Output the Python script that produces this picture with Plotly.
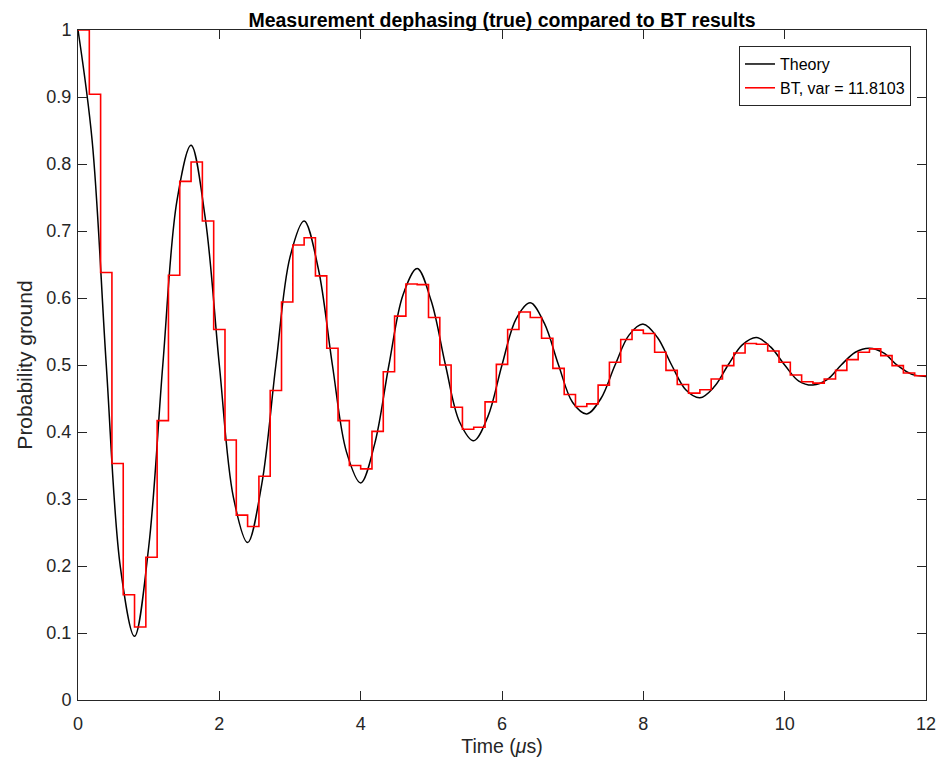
import plotly.graph_objects as go

# ---- data ----
BIN_WIDTH = 0.16  # width of each BT step (µs)
bt_values = [
    1.000, 0.904, 0.638, 0.353, 0.157, 0.109, 0.213, 0.417, 0.634, 0.774,
    0.803, 0.715, 0.553, 0.388, 0.276, 0.259, 0.334, 0.462, 0.594, 0.679,
    0.690, 0.633, 0.525, 0.417, 0.350, 0.345, 0.401, 0.490, 0.573, 0.621,
    0.620, 0.571, 0.500, 0.437, 0.404, 0.407, 0.445, 0.501, 0.553, 0.579,
    0.571, 0.540, 0.495, 0.456, 0.438, 0.442, 0.470, 0.504, 0.538, 0.552,
    0.547, 0.519, 0.492, 0.471, 0.458, 0.463, 0.479, 0.499, 0.518, 0.532,
    0.531, 0.521, 0.504, 0.485, 0.475, 0.473, 0.479, 0.492, 0.508, 0.519,
    0.524, 0.514, 0.499, 0.488, 0.484,
]

THEORY_STEP = 0.2  # sampling of the theory curve (µs)
theory_values = [
    1.000, 0.835, 0.500, 0.198, 0.095, 0.228, 0.500, 0.745, 0.828, 0.720,
    0.500, 0.302, 0.235, 0.322, 0.500, 0.661, 0.715, 0.644, 0.500, 0.370,
    0.324, 0.383, 0.500, 0.605, 0.644, 0.595, 0.500, 0.415, 0.387, 0.423,
    0.500, 0.569, 0.593, 0.562, 0.500, 0.444, 0.427, 0.450, 0.500, 0.545,
    0.561, 0.541, 0.500, 0.463, 0.451, 0.467, 0.500, 0.530, 0.541, 0.527,
    0.500, 0.476, 0.470, 0.478, 0.500, 0.519, 0.525, 0.518, 0.499, 0.486,
    0.483,
]

x_tick_vals = [0, 2, 4, 6, 8, 10, 12]
y_tick_vals = [0, 0.1, 0.2, 0.3, 0.4, 0.5, 0.6, 0.7, 0.8, 0.9, 1]
y_tick_text = ["0", "0.1", "0.2", "0.3", "0.4", "0.5", "0.6", "0.7", "0.8", "0.9", "1"]

title_text = "Measurement dephasing (true) compared to BT results"
theory_name = "Theory"
bt_name = "BT, var = 11.8103"

# ---- derived ----
t_theory = [round(i * THEORY_STEP, 4) for i in range(len(theory_values))]
t_edges = [round(i * BIN_WIDTH, 4) for i in range(len(bt_values) + 1)]
bt_y = bt_values + [bt_values[-1]]

FONT = "Liberation Sans, Arial, Helvetica, sans-serif"
AX = "#262626"
W, H = 945, 762

fig = go.Figure()
fig.add_trace(go.Scatter(
    x=t_theory, y=theory_values, mode="lines", name=theory_name,
    line=dict(color="black", width=1.5, shape="spline", smoothing=1.0),
))
fig.add_trace(go.Scatter(
    x=t_edges, y=bt_y, mode="lines", name=bt_name,
    line=dict(color="#ff0000", width=1.6, shape="hv"),
))

axis_common = dict(
    showgrid=False, zeroline=False, showline=True, linecolor=AX, linewidth=1,
    mirror="ticks", ticks="inside", ticklen=9, tickwidth=1, tickcolor=AX,
    tickfont=dict(family=FONT, size=18, color=AX), automargin=False,
)

fig.update_layout(
    width=W, height=H,
    paper_bgcolor="white", plot_bgcolor="white",
    margin=dict(l=70, r=27, t=22, b=70),
    title=dict(text="<b>" + title_text + "</b>", x=0.5, xref="paper",
               y=1 - 12 / H, yref="container", yanchor="middle",
               pad=dict(t=0, b=0),
               font=dict(family=FONT, size=19.5, color="black")),
    xaxis=dict(range=[0, 12], tickvals=x_tick_vals, ticklabelstandoff=7,
               title=dict(text="Time (<i>μ</i>s)", standoff=6,
                          font=dict(family=FONT, size=19.5, color=AX)),
               **axis_common),
    yaxis=dict(range=[0, 1], tickvals=y_tick_vals, ticktext=y_tick_text,
               ticklabelstandoff=2,
               title=dict(text="Probability ground", standoff=8,
                          font=dict(family=FONT, size=21, color=AX)),
               **axis_common),
    showlegend=True,
    legend=dict(x=0.9823, xanchor="right", y=0.976, yanchor="top",
                bgcolor="white", bordercolor=AX, borderwidth=1,
                font=dict(family=FONT, size=16, color="black"),
                tracegroupgap=0),
)

fig.write_html("out.html")
